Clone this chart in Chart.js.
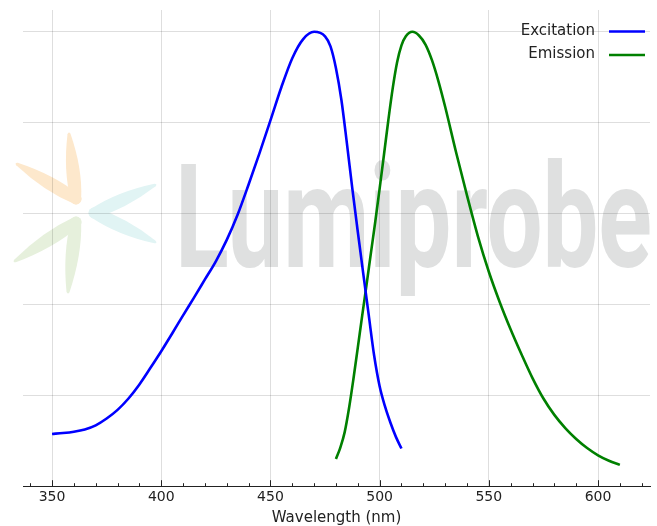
<!DOCTYPE html>
<html>
<head>
<meta charset="utf-8">
<script src="https://cdn.jsdelivr.net/npm/chart.js@4/dist/chart.umd.min.js"></script>
<style>
  html, body { margin: 0; padding: 0; background: #fff; }
  #wrap { width: 657px; height: 526px; }
</style>
</head>
<body>
<div id="wrap"><canvas id="c" width="657" height="526"></canvas></div>
<script>
const excitationWavelengths = [350,355,360,365,370,375,380,385,390,395,400,405,410,415,420,425,430,435,440,445,450,455,460,465,470,475,477.5,480,482.5,485,487.5,490,492.5,495,497.5,500,502.5,505,507.5,510];
const excitationValues = [0.115,0.117,0.120,0.125,0.134,0.149,0.168,0.193,0.224,0.260,0.297,0.336,0.376,0.415,0.455,0.495,0.542,0.598,0.664,0.733,0.805,0.878,0.942,0.984,1.000,0.990,0.968,0.920,0.850,0.755,0.655,0.560,0.468,0.377,0.287,0.220,0.175,0.139,0.108,0.083];

const emissionWavelengths = [480,482,484,486,488,490,492,494,496,498,500,502,504,506,508,510,512,515,518,521,524,527,530,535,540,545,550,555,560,565,570,575,580,585,590,595,600,605,610];
const emissionValues = [0.060,0.085,0.119,0.172,0.236,0.305,0.375,0.443,0.513,0.582,0.655,0.730,0.806,0.876,0.933,0.970,0.990,1.000,0.992,0.972,0.937,0.890,0.835,0.735,0.640,0.550,0.472,0.405,0.345,0.290,0.238,0.193,0.157,0.128,0.104,0.084,0.068,0.056,0.047];

const xMajorTicks = [350,400,450,500,550,600];
const xMinorTicks = [340,360,370,380,390,410,420,430,440,460,470,480,490,510,520,530,540,560,570,580,590,610,620];
const yGridTicks = [0,0.2,0.4,0.6,0.8,1.0];
const seriesLabels = ['Excitation','Emission'];
const seriesColors = ['#0000ff','#008000'];
const xTitle = 'Wavelength (nm)';
const watermarkText = 'Lumiprobe';

function pts(xs, ys) { return xs.map((x, i) => ({x: x, y: ys[i]})); }

const bgAndWatermark = {
  id: 'bgAndWatermark',
  beforeDraw(chart) {
    const ctx = chart.ctx;
    ctx.save();
    ctx.fillStyle = '#ffffff';
    ctx.fillRect(0, 0, chart.width, chart.height);
    function arm(vx, vy, tx, ty, w, color) {
      const dx = tx - vx, dy = ty - vy;
      const len = Math.hypot(dx, dy);
      const nx = -dy / len, ny = dx / len;
      ctx.fillStyle = color;
      ctx.beginPath();
      ctx.moveTo(vx + nx * w * 0.4, vy + ny * w * 0.4);
      ctx.quadraticCurveTo(vx + dx * 0.45 + nx * w * 0.75, vy + dy * 0.45 + ny * w * 0.75, tx + nx * 1.5, ty + ny * 1.5);
      ctx.quadraticCurveTo(tx + dx / len * 3, ty + dy / len * 3, tx - nx * 1.5, ty - ny * 1.5);
      ctx.quadraticCurveTo(vx + dx * 0.45 - nx * w * 0.75, vy + dy * 0.45 - ny * w * 0.75, vx - nx * w * 0.4, vy - ny * w * 0.4);
      ctx.closePath();
      ctx.fill();
      ctx.beginPath();
      ctx.arc(vx, vy, w * 0.42, 0, Math.PI * 2);
      ctx.fill();
    }
    const orange = '#fde8cc', green = '#e6f0dc', cyan = '#e1f4f4';
    arm(76, 199, 17, 164, 13, orange);
    arm(76, 199, 69, 134, 13, orange);
    arm(76, 222, 15, 261, 13, green);
    arm(76, 222, 68, 292, 13, green);
    arm(94, 213, 155, 185, 13, cyan);
    arm(94, 213, 155, 242, 13, cyan);
    ctx.font = '700 144px Roboto';
    ctx.textBaseline = 'alphabetic';
    ctx.fillStyle = '#dfe0e0';
    const w = ctx.measureText(watermarkText).width;
    const target = 477;
    ctx.translate(175, 267);
    ctx.scale(target / w, 1);
    ctx.fillText(watermarkText, 0, 0);
    ctx.restore();
  }
};

const ticksAndLegend = {
  id: 'ticksAndLegend',
  afterDraw(chart) {
    const ctx = chart.ctx;
    const xs = chart.scales.x;
    const bottom = chart.chartArea.bottom;
    ctx.save();
    ctx.strokeStyle = '#222';
    ctx.lineWidth = 1;
    const all = xMajorTicks.map(v => [v, 6]).concat(xMinorTicks.map(v => [v, 3]));
    all.forEach(([v, len]) => {
      const px = Math.round(xs.getPixelForValue(v)) + 0.5;
      ctx.beginPath();
      ctx.moveTo(px, bottom);
      ctx.lineTo(px, bottom - len);
      ctx.stroke();
    });
    ctx.font = '15px "DejaVu Sans"';
    ctx.textAlign = 'right';
    ctx.textBaseline = 'middle';
    chart.data.datasets.forEach((ds, i) => {
      const y = 31 + i * 23.5;
      ctx.fillStyle = '#222';
      ctx.fillText(ds.label, 595, y);
      ctx.strokeStyle = ds.borderColor;
      ctx.lineWidth = 2.6;
      ctx.beginPath();
      ctx.moveTo(609, y + 0.5);
      ctx.lineTo(645, y + 0.5);
      ctx.stroke();
    });
    ctx.restore();
  }
};

new Chart(document.getElementById('c'), {
  type: 'line',
  data: {
    datasets: [
      { label: seriesLabels[0], data: pts(excitationWavelengths, excitationValues), borderColor: seriesColors[0], backgroundColor: seriesColors[0], borderWidth: 2.6, pointRadius: 0, cubicInterpolationMode: 'monotone', fill: false },
      { label: seriesLabels[1], data: pts(emissionWavelengths, emissionValues), borderColor: seriesColors[1], backgroundColor: seriesColors[1], borderWidth: 2.6, pointRadius: 0, cubicInterpolationMode: 'monotone', fill: false }
    ]
  },
  options: {
    responsive: false,
    animation: false,
    events: [],
    layout: { padding: { left: 23, right: 7, top: 10, bottom: 0 } },
    plugins: { legend: { display: false }, tooltip: { enabled: false } },
    scales: {
      x: {
        type: 'linear',
        min: 336.7,
        max: 623.8,
        afterBuildTicks(scale) { scale.ticks = xMajorTicks.map(v => ({value: v})); },
        grid: { color: 'rgba(0,0,0,0.13)', lineWidth: 1, drawTicks: false },
        border: { display: true, color: '#222', width: 1 },
        ticks: { padding: 3, color: '#222', font: { family: 'DejaVu Sans', size: 14 } },
        title: { display: true, text: xTitle, color: '#222', font: { family: 'DejaVu Sans', size: 15, lineHeight: 1.0 }, padding: { top: 2, bottom: 0 } }
      },
      y: {
        min: 0,
        max: 1.048,
        afterBuildTicks(scale) { scale.ticks = yGridTicks.map(v => ({value: v})); },
        grid: { color: 'rgba(0,0,0,0.13)', lineWidth: 1, drawTicks: false },
        border: { display: false },
        ticks: { display: false }
      }
    }
  },
  plugins: [bgAndWatermark, ticksAndLegend]
});
</script>
</body>
</html>
